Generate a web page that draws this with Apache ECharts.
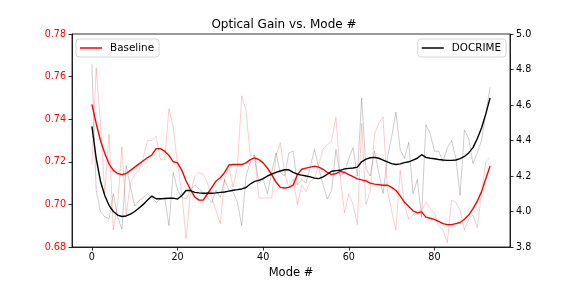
<!DOCTYPE html>
<html><head><meta charset="utf-8">
<script src="https://cdn.jsdelivr.net/npm/echarts@6/dist/echarts.min.js"></script>
<style>html,body{margin:0;padding:0;background:#fff}#c{width:568px;height:284px}</style>
</head><body><div id="c"></div>
<script>
const xTicks = [0, 20, 40, 60, 80];
const leftTicks = [0.68, 0.70, 0.72, 0.74, 0.76, 0.78];
const rightTicks = [3.8, 4.0, 4.2, 4.4, 4.6, 4.8, 5.0];
const baselineSmooth = [0.747,0.738,0.730,0.724,0.719,0.716,0.7145,0.714,0.7145,0.716,0.7175,0.719,0.7205,0.722,0.7232,0.7262,0.7262,0.725,0.723,0.720,0.7195,0.716,0.711,0.707,0.7035,0.702,0.702,0.705,0.708,0.711,0.7125,0.715,0.7185,0.7187,0.7187,0.7187,0.7195,0.721,0.7218,0.721,0.7195,0.717,0.714,0.7105,0.708,0.7077,0.708,0.709,0.714,0.7165,0.717,0.7175,0.718,0.7175,0.7165,0.715,0.714,0.7145,0.7155,0.715,0.714,0.713,0.712,0.7115,0.711,0.710,0.7095,0.7093,0.709,0.709,0.708,0.7065,0.704,0.701,0.699,0.697,0.696,0.6965,0.694,0.6935,0.693,0.692,0.691,0.6905,0.6905,0.691,0.6915,0.693,0.695,0.698,0.7015,0.706,0.712,0.718];
const baselineRaw = [0.719,0.764,0.738,0.705,0.733,0.688,0.700,0.727,0.695,0.710,0.714,0.716,0.722,0.730,0.730,0.732,0.721,0.721,0.745,0.736,0.719,0.705,0.684,0.705,0.713,0.715,0.714,0.710,0.703,0.697,0.691,0.712,0.718,0.708,0.718,0.751,0.744,0.723,0.723,0.703,0.703,0.703,0.703,0.723,0.729,0.715,0.708,0.712,0.700,0.709,0.706,0.711,0.712,0.719,0.726,0.728,0.730,0.741,0.713,0.696,0.705,0.700,0.6905,0.738,0.700,0.706,0.733,0.738,0.741,0.707,0.697,0.688,0.716,0.700,0.693,0.695,0.697,0.697,0.701,0.698,0.696,0.690,0.688,0.682,0.702,0.701,0.697,0.688,0.693,0.695,0.689,0.705,0.720,0.722];
const docrimeSmooth = [4.48,4.30,4.17,4.09,4.035,4.0,3.98,3.972,3.975,3.985,4.0,4.02,4.04,4.065,4.087,4.072,4.072,4.073,4.075,4.075,4.07,4.09,4.118,4.118,4.108,4.105,4.103,4.103,4.103,4.105,4.108,4.11,4.115,4.12,4.123,4.127,4.135,4.155,4.17,4.175,4.185,4.2,4.21,4.22,4.228,4.235,4.235,4.22,4.21,4.205,4.2,4.195,4.188,4.185,4.195,4.21,4.227,4.23,4.232,4.24,4.243,4.245,4.25,4.28,4.295,4.303,4.305,4.3,4.29,4.28,4.27,4.265,4.268,4.275,4.28,4.29,4.3,4.32,4.305,4.30,4.297,4.293,4.29,4.288,4.288,4.29,4.298,4.31,4.33,4.36,4.41,4.47,4.55,4.64];
const docrimeRaw = [4.83,4.12,4.00,3.97,3.96,4.10,3.97,3.90,4.26,4.14,4.03,4.06,4.08,4.10,4.08,4.05,4.07,4.08,3.92,4.22,4.12,4.08,4.07,4.12,4.15,4.13,4.10,4.08,4.05,4.12,4.08,4.18,4.12,4.11,4.05,3.92,4.20,4.28,4.32,4.16,4.18,4.10,4.22,4.33,4.22,4.20,4.33,4.34,4.15,4.18,4.16,4.25,4.35,4.24,4.15,4.07,4.12,4.35,4.20,4.22,4.30,4.36,4.20,4.64,4.24,4.20,4.34,4.22,4.10,4.30,4.42,4.56,4.35,4.30,4.39,4.10,4.18,3.97,4.49,4.44,4.34,4.34,4.28,4.36,4.40,4.30,4.09,4.46,4.41,4.27,4.33,4.40,4.55,4.70];

const pairs = a => a.map((v, i) => [i, v]);
const font = 'DejaVu Sans';
const chart = echarts.init(document.getElementById('c'), null, {renderer: 'canvas'});
const tickStyle = {show: true, inside: false, length: 3.5, lineStyle: {color: '#000', width: 0.8}};
const legendBase = {orient: 'vertical', icon: 'rect', itemWidth: 22, itemHeight: 1.5,
  padding: [3, 5, 3, 4], backgroundColor: 'rgba(255,255,255,0.8)', borderColor: '#ccc', borderWidth: 0.8, borderRadius: 3,
  textStyle: {fontFamily: font, fontSize: 10.4, color: '#000', padding: [0, 0, 0, 3], lineHeight: 12}};
chart.setOption({
  animation: false,
  backgroundColor: '#fff',
  title: {text: 'Optical Gain vs. Mode #', left: 'center', top: 14,
    textStyle: {fontFamily: font, fontSize: 12, fontWeight: 'normal', color: '#000', lineHeight: 12}},
  grid: {left: 72, right: 58, top: 34, bottom: 31, show: true, borderColor: '#000', borderWidth: 0.8, backgroundColor: 'transparent'},
  legend: [
    Object.assign({data: ['Baseline'], left: 76, top: 39}, legendBase),
    Object.assign({data: ['DOCRIME'], right: 62, top: 39}, legendBase)
  ],
  xAxis: {type: 'value', min: -4.65, max: 97.65, name: 'Mode #', nameLocation: 'middle', nameGap: 20,
    nameTextStyle: {fontFamily: font, fontSize: 11.5, color: '#000'},
    axisLine: {show: true, onZero: false, lineStyle: {color: '#000', width: 0.8}},
    axisTick: Object.assign({customValues: xTicks}, tickStyle),
    axisLabel: {customValues: xTicks, fontFamily: font, fontSize: 9.6, color: '#000', margin: 5},
    splitLine: {show: false}},
  yAxis: [
    {type: 'value', min: leftTicks[0], max: leftTicks[leftTicks.length - 1], interval: 0.02, position: 'left',
      axisLine: {show: true, onZero: false, lineStyle: {color: '#000', width: 0.8}}, axisTick: tickStyle,
      axisLabel: {fontFamily: font, fontSize: 9.6, color: '#ff0000', margin: 6, formatter: v => v.toFixed(2)},
      splitLine: {show: false}},
    {type: 'value', min: rightTicks[0], max: rightTicks[rightTicks.length - 1], interval: 0.2, position: 'right',
      axisLine: {show: true, onZero: false, lineStyle: {color: '#000', width: 0.8}}, axisTick: tickStyle,
      axisLabel: {fontFamily: font, fontSize: 9.6, color: '#000', margin: 6, formatter: v => v.toFixed(1)},
      splitLine: {show: false}}
  ],
  series: [
    {name: 'Baseline raw', type: 'line', yAxisIndex: 0, data: pairs(baselineRaw), showSymbol: false, z: 1,
      lineStyle: {color: 'rgba(255,0,0,0.2)', width: 1}, itemStyle: {color: 'rgba(255,0,0,0.2)'}},
    {name: 'Baseline', type: 'line', yAxisIndex: 0, data: pairs(baselineSmooth), showSymbol: false, z: 3,
      lineStyle: {color: '#ff0000', width: 1.4}, itemStyle: {color: '#ff0000'}},
    {name: 'DOCRIME raw', type: 'line', yAxisIndex: 1, data: pairs(docrimeRaw), showSymbol: false, z: 1,
      lineStyle: {color: 'rgba(0,0,0,0.2)', width: 1}, itemStyle: {color: 'rgba(0,0,0,0.2)'}},
    {name: 'DOCRIME', type: 'line', yAxisIndex: 1, data: pairs(docrimeSmooth), showSymbol: false, z: 3,
      lineStyle: {color: '#000', width: 1.4}, itemStyle: {color: '#000'}}
  ]
});
</script></body></html>
